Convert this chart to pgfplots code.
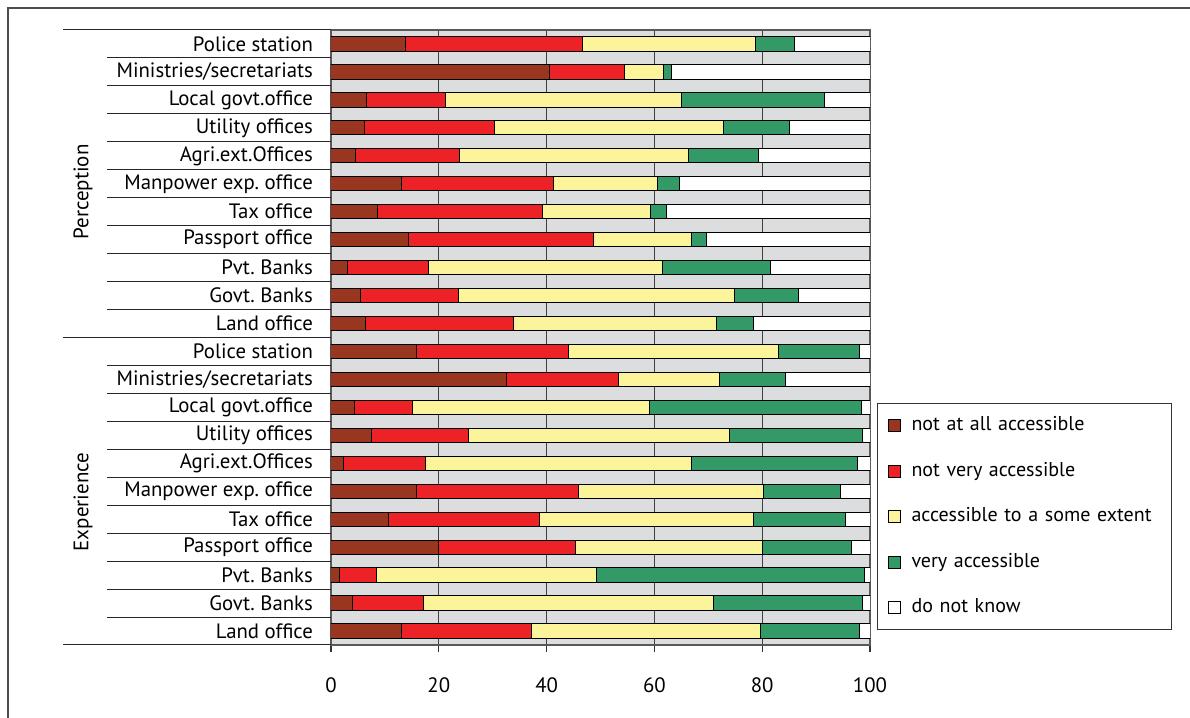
\documentclass[border=0pt]{standalone}
\usepackage{pgfplots}
\usepackage{pgfplotstable}
\pgfplotsset{compat=1.18}
\usepackage{fontspec}
\setmainfont{PT Sans}

\definecolor{cBrown}{RGB}{152,54,32}
\definecolor{cRed}{RGB}{237,34,39}
\definecolor{cYellow}{RGB}{251,244,154}
\definecolor{cGreen}{RGB}{51,153,102}
\definecolor{cGray}{RGB}{220,221,222}

% segments in percent, rows top to bottom
\pgfplotstableread{
idx brown red  yellow green white
0   13.9  32.8 32.1   7.2   14.0
1   40.5  13.9 7.2    1.5   36.9
2   6.6   14.7 43.7   26.6  8.4
3   6.3   24.1 42.4   12.2  15.0
4   4.5   19.3 42.5   13.1  20.6
5   13.1  28.2 19.3   4.1   35.3
6   8.7   30.6 20.0   2.9   37.8
7   14.3  34.4 18.1   2.9   30.3
8   3.0   15.1 43.4   20.0  18.5
9   5.5   18.2 51.2   11.9  13.2
10  6.4   27.5 37.6   6.9   21.6
11  15.8  28.2 39.0   15.1  1.9
12  32.5  20.8 18.8   12.2  15.7
13  4.3   10.9 43.8   39.4  1.6
14  7.5   18.1 48.4   24.7  1.3
15  2.4   15.1 49.3   30.9  2.3
16  15.8  30.1 34.3   14.3  5.5
17  10.6  28.1 39.7   17.1  4.5
18  20.0  25.3 34.7   16.5  3.5
19  1.5   7.0  40.8   49.7  1.0
20  4.0   13.1 53.8   27.7  1.4
21  13.1  24.1 42.4   18.5  1.9
}\data

\begin{document}
\begin{tikzpicture}[x=0.5pt,y=0.5pt,font=\fontsize{10}{12}\selectfont]
\useasboundingbox (0,0) rectangle (1190,718);
\draw[black!70, line width=0.6pt] (8,0) -- (8,710) -- (1190,710);

\begin{axis}[
    at={(165.5pt,36.5pt)}, anchor=south west,
    scale only axis, width=269.5pt, height=307.5pt,
    xbar stacked, bar width=0.51,
    xmin=0, xmax=100, ymin=-0.5, ymax=21.5, y dir=reverse,
    xtick={0,20,...,100}, ytick={0,...,21},
    yticklabels={Police station,Ministries/secretariats,Local govt.office,Utility offices,Agri.ext.Offices,Manpower exp.\ office,Tax office,Passport office,Pvt.\ Banks,Govt.\ Banks,Land office,
                 Police station,Ministries/secretariats,Local govt.office,Utility offices,Agri.ext.Offices,Manpower exp.\ office,Tax office,Passport office,Pvt.\ Banks,Govt.\ Banks,Land office},
    /pgf/number format/assume math mode=true,
    ticklabel style={font=\fontsize{10.4}{12}\selectfont},
    xmajorgrids, major grid style={black!75, line width=0.5pt},
    axis background/.style={fill=cGray},
    axis line style={black!65, line width=0.6pt},
    tick align=outside, major tick length=3.5pt,
    xtick pos=bottom, ytick style={draw=none},
    xtick style={black!80, line width=0.6pt},
    yticklabel style={xshift=-2pt},
    xticklabel style={yshift=-9.5pt},
    every axis plot/.append style={draw=black, line width=0.5pt},
    legend style={at={(1.013,0.3935)}, anchor=north west, draw=black!80, line width=0.5pt,
        inner xsep=5pt, inner ysep=6pt, row sep=12.75pt,
        nodes={text width=125pt, text height=7.5pt, text depth=2.5pt, inner sep=0pt, align=left}},
    legend image code/.code={\draw[#1, draw=black, line width=0.5pt] (0pt,-3pt) rectangle (6pt,3pt); \path (11.5pt,0pt);},
]
\addplot[fill=cBrown] table[x=brown, y=idx] {\data};
\addplot[fill=cRed] table[x=red, y=idx] {\data};
\addplot[fill=cYellow] table[x=yellow, y=idx] {\data};
\addplot[fill=cGreen] table[x=green, y=idx] {\data};
\addplot[fill=white] table[x=white, y=idx] {\data};
\legend{not at all accessible,not very accessible,accessible to a some extent,very accessible,do not know}
\end{axis}

% label column separators
\foreach \k in {1,...,10,12,13,...,21}
    \draw[black!85, line width=0.5pt] (107,{688-\k*27.9545}) -- (331,{688-\k*27.9545});
\foreach \k in {0,11,22}
    \draw[black!85, line width=0.5pt] (63,{688-\k*27.9545}) -- (331,{688-\k*27.9545});

\node[rotate=90, font=\fontsize{10.5}{12}\selectfont] at (83,526) {Perception};
\node[rotate=90, font=\fontsize{10.5}{12}\selectfont] at (83,216) {Experience};
\end{tikzpicture}
\end{document}
